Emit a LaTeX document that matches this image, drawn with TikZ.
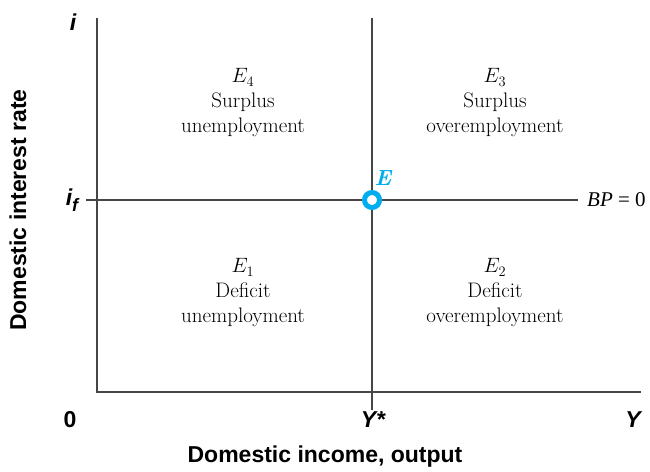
\documentclass[tikz,border=0pt]{standalone}
\usepackage{fontspec}
\newfontfamily\labelfont{Liberation Sans}
\newfontfamily\bpfont{Liberation Serif}
\usetikzlibrary{positioning}
\definecolor{eqblue}{RGB}{0,174,239}
\definecolor{axisgray}{RGB}{70,70,70}
\tikzset{
  axisline/.style={draw=axisgray, line width=1.2pt},
  quadtext/.style={align=center, font=\fontsize{21}{25}\selectfont},
  axislabel/.style={font=\labelfont\bfseries\itshape\fontsize{23}{26}\selectfont},
  axistitle/.style={font=\labelfont\bfseries\fontsize{23}{26}\selectfont},
}
\begin{document}
\begin{tikzpicture}[x=1pt, y=-1pt]
    \useasboundingbox (0,0) rectangle (650,471);

    % axes and the two guide lines
    \coordinate (top) at (97,18);
    \coordinate (origin) at (97,392);
    \coordinate (xend) at (641,392);
    \coordinate (ystarTop) at (372,18);
    \coordinate (ystarBot) at (372,410);
    \coordinate (ifLeft) at (86,200);
    \coordinate (bpEnd) at (578,200);
    \draw[axisline] (top) -- (origin) -- (xend);
    \draw[axisline] (ystarTop) -- (ystarBot);
    \draw[axisline] (ifLeft) -- (bpEnd);

    % axis labels
    \node[axislabel] (ilab) at (73,22) {i};
    \node[axislabel] (iflab) at (72,200) {i\raisebox{-0.45ex}{\fontsize{18}{18}\selectfont f}};
    \node[axislabel, font=\labelfont\bfseries\fontsize{23}{26}\selectfont] (zero) at (70,420) {0};
    \node[axislabel] (ystar) at (373,420) {Y*};
    \node[axislabel] (ylab) at (633,420) {Y};
    \node[font=\bpfont\fontsize{21}{25}\selectfont, anchor=west, inner sep=0pt] (bp) at (587,200) {\textit{BP} = 0};

    \node[axistitle] (xtitle) at (325,457) {Domestic income, output};
    \node[axistitle, rotate=90] (ytitle) at (18,210) {Domestic interest rate};

    % the four regions
    \foreach \nm/\x/\y/\idx/\bal/\emp in {q4/243/103/4/Surplus/unemployment,
                                           q3/495/103/3/Surplus/overemployment,
                                           q1/243/293/1/Deficit/unemployment,
                                           q2/495/293/2/Deficit/overemployment} {
        \node[quadtext] (\nm) at (\x,\y) {$E_{\idx}$\\\bal\\\emp};
      }

    % equilibrium point
    \node[circle, draw=eqblue, fill=white, line width=5pt, minimum size=15pt, inner sep=0pt] (E) at (372,200) {};
    \node[text=eqblue, font=\fontsize{22}{24}\selectfont\bfseries\itshape] (Elab) at (383,178) {E};
  \end{tikzpicture}
\end{document}
